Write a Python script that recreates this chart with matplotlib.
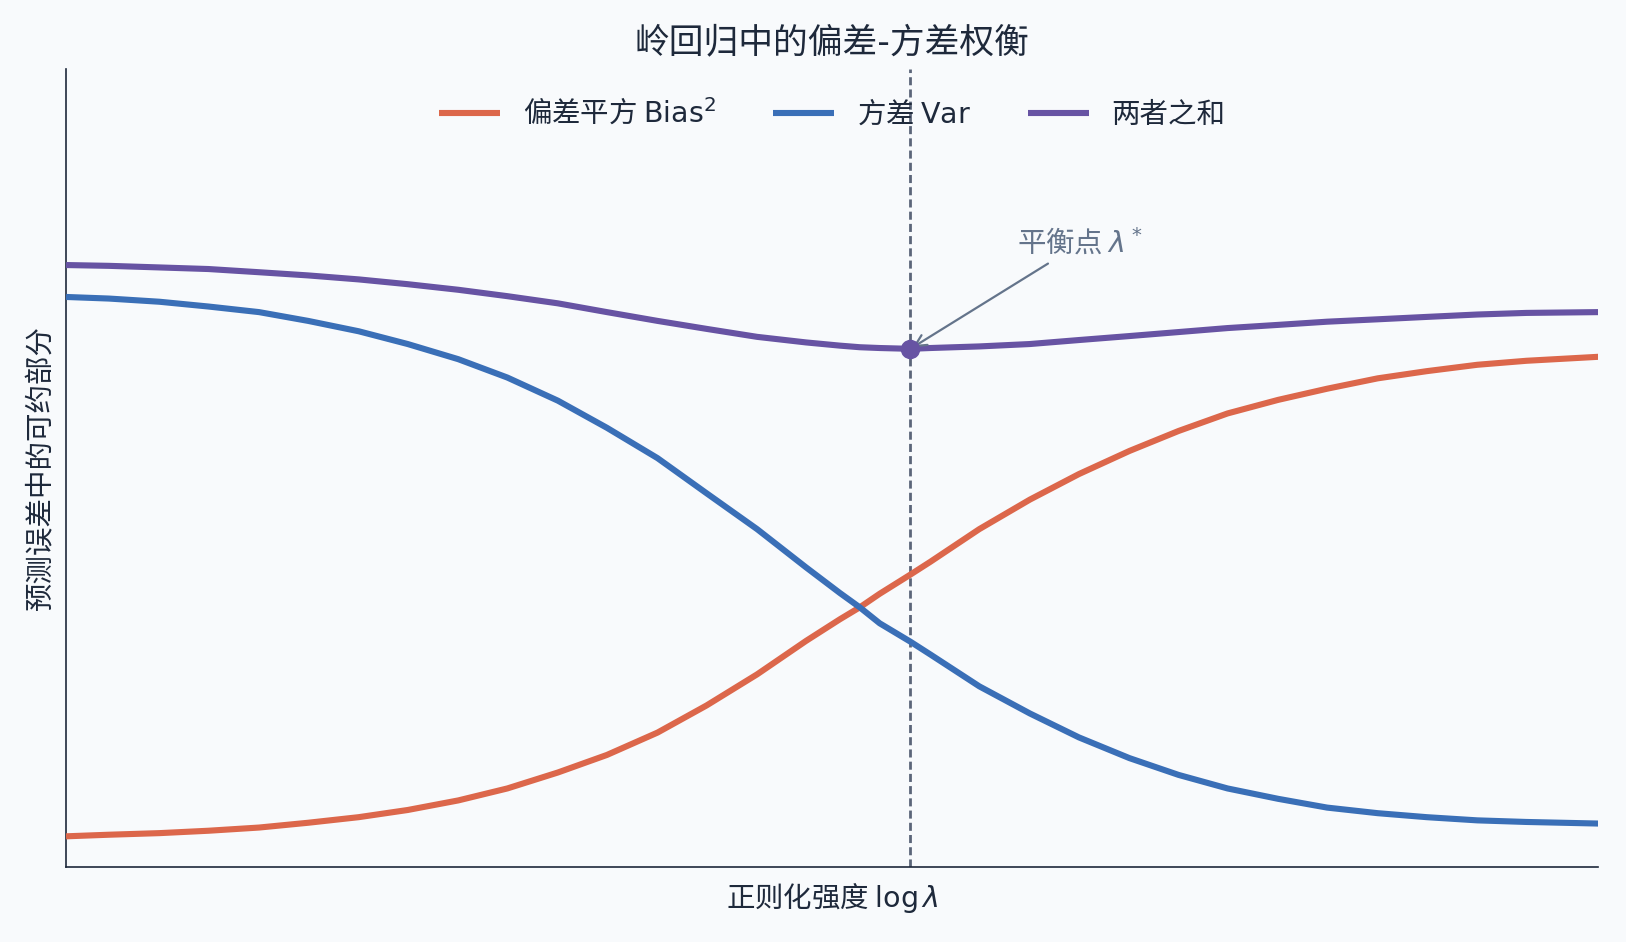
import numpy as np
import matplotlib
matplotlib.use('Agg')
import matplotlib.pyplot as plt

plt.rcParams['font.family'] = ['DejaVu Sans', 'Noto Sans CJK SC']
plt.rcParams['mathtext.fontset'] = 'dejavusans'
CJK = 'Noto Sans CJK SC'

# log(lambda) positions
log_lam = [-5.00, -4.72, -4.39, -4.07, -3.74, -3.42, -3.09, -2.77, -2.44, -2.12, -1.79,
           -1.47, -1.14, -0.82, -0.49, -0.17, 0.05, 0.18, 0.31, 0.51, 0.64, 0.96,
           1.29, 1.61, 1.94, 2.26, 2.58, 2.91, 3.23, 3.56, 3.88, 4.21, 4.53, 5.00]
bias_sq = [0.038, 0.040, 0.042, 0.045, 0.049, 0.055, 0.062, 0.071, 0.083, 0.098, 0.118,
           0.140, 0.168, 0.202, 0.241, 0.283, 0.310, 0.325, 0.342, 0.366, 0.382, 0.423,
           0.460, 0.492, 0.521, 0.546, 0.568, 0.585, 0.599, 0.612, 0.621, 0.629, 0.634, 0.639]
variance = [0.714, 0.712, 0.708, 0.702, 0.695, 0.684, 0.671, 0.655, 0.636, 0.613, 0.584,
            0.550, 0.512, 0.468, 0.423, 0.375, 0.343, 0.325, 0.305, 0.282, 0.266, 0.226,
            0.192, 0.162, 0.136, 0.115, 0.098, 0.085, 0.074, 0.067, 0.062, 0.058, 0.056, 0.054]
total = [0.754, 0.753, 0.751, 0.749, 0.745, 0.741, 0.736, 0.730, 0.723, 0.715, 0.706,
         0.695, 0.684, 0.674, 0.664, 0.657, 0.653, 0.651, 0.650, 0.649, 0.650, 0.652,
         0.655, 0.660, 0.665, 0.670, 0.675, 0.679, 0.683, 0.686, 0.689, 0.692, 0.694, 0.695]
lam_star = 0.51
total_star = 0.649

c_bias = '#dc674b'
c_var = '#3a6fb7'
c_sum = '#6753a3'
c_text = '#1e293b'
c_grey = '#64748b'
bg = '#f8fafc'

fig = plt.figure(figsize=(16.26, 9.42), dpi=100, facecolor=bg)
ax = fig.add_axes([0.0406, 0.080, 0.9424, 0.847])
ax.set_facecolor(bg)

ax.axvline(lam_star, color='#5b6579', lw=2.0, ls=(0, (2.9, 1.5)), zorder=1)
line_kw = dict(lw=4.4, solid_joinstyle='round', solid_capstyle='butt', zorder=3)
ax.plot(log_lam, bias_sq, color=c_bias, label='偏差平方 $\\mathrm{Bias}^2$', **line_kw)
ax.plot(log_lam, variance, color=c_var, label='方差 $\\mathrm{Var}$', **line_kw)
ax.plot(log_lam, total, color=c_sum, label='两者之和', **line_kw)
ax.plot([lam_star], [total_star], 'o', color=c_sum, ms=13, zorder=4)

ax.annotate('平衡点 $\\lambda^*$', xy=(lam_star, total_star), xytext=(1.62, 0.781),
            ha='center', va='center', fontsize=20.5, color=c_grey, fontfamily=CJK,
            arrowprops=dict(arrowstyle='->', color=c_grey, lw=1.6))

ax.set_xlim(-5, 5)
ax.set_ylim(0, 1)
ax.set_xticks([])
ax.set_yticks([])
for s in ['top', 'right']:
    ax.spines[s].set_visible(False)
for s in ['left', 'bottom']:
    ax.spines[s].set_color(c_text)
    ax.spines[s].set_linewidth(1.2)

ax.set_title('岭回归中的偏差-方差权衡', fontsize=25, color=c_text, pad=12)
ax.set_xlabel('正则化强度 $\\log\\lambda$', fontsize=20.5, color=c_text, labelpad=10,
              fontfamily=CJK)
ax.set_ylabel('预测误差中的可约部分', fontsize=20.5, color=c_text, labelpad=8)

leg = ax.legend(loc='upper center', bbox_to_anchor=(0.5, 0.995), ncol=3, frameon=False,
                prop={'family': CJK, 'size': 20.5}, handlelength=2.15, handletextpad=0.8,
                columnspacing=2.0)
for t in leg.get_texts():
    t.set_color(c_text)

fig.savefig('out.png', dpi=100, facecolor=bg)
